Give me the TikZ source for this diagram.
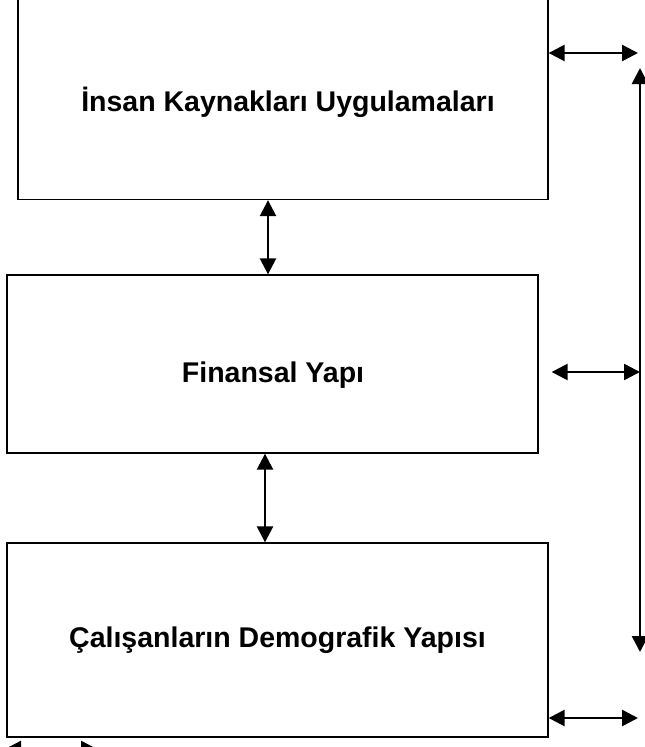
\documentclass[tikz,border=0pt]{standalone}
\usepackage{fontspec}
\setmainfont{Liberation Sans}
\usetikzlibrary{arrows.meta, calc}
\tikzset{
    >={Triangle[length=16pt, width=16pt]},
    block/.style={draw, line width=1.3pt, inner sep=0pt, font=\bfseries\fontsize{28.5}{32}\selectfont},
    link/.style={<->, line width=2.5pt},
}

\begin{document}
\begin{tikzpicture}[x=1pt, y=-1pt]
    \useasboundingbox (0,0) rectangle (645,747);
    \clip (0,0) rectangle (645,747);
    \node[block, minimum width=530pt, minimum height=209pt] (hr) at (283,95) {};
    \node[font=\bfseries\fontsize{28.5}{32}\selectfont] (hrtext) at (288,102) {İnsan Kaynakları Uygulamaları};
    \node[block, minimum width=531pt, minimum height=178pt] (fin) at (272.5,364) {};
    \node[font=\bfseries\fontsize{28.5}{32}\selectfont] (fintext) at (273,375) {Finansal Yapı};
    \node[block, minimum width=541pt, minimum height=194pt] (demo) at (277.5,640) {Çalışanların Demografik Yapısı};
    % right-hand spine
    \coordinate (spinetop) at (640,68);
    \coordinate (spinebot) at (640,652);
    \draw[link] (spinetop) -- (spinebot);
    \foreach \n/\y in {hr/53, demo/718}
        \draw[link] (\n.east |- 0,\y) -- (638,\y);
    \draw[link] ($(fin.east |- 0,372)+(13,0)$) -- (spinebot |- 0,372);
    % links between the blocks
    \draw[link] (hr.south -| 268,0) -- (fin.north -| 268,0);
    \draw[link] (fin.south -| 265,0) -- (demo.north -| 265,0);
    \draw[link] (5,749) -- (97,749);
\end{tikzpicture}
\end{document}
